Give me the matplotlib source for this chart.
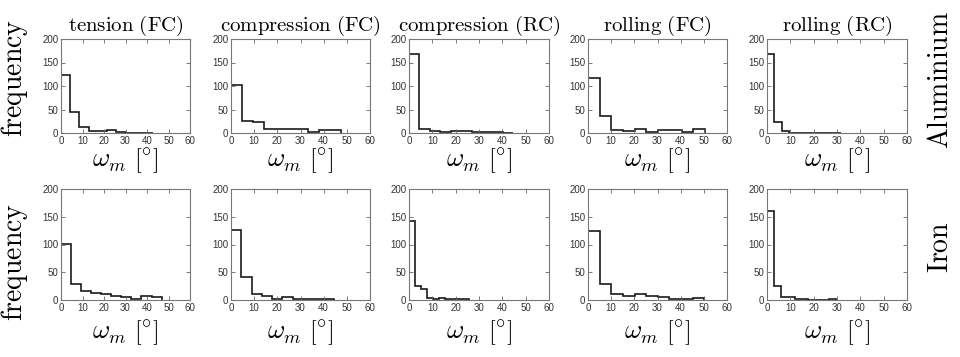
import numpy as np
import matplotlib
matplotlib.use("Agg")
import matplotlib.pyplot as plt

plt.rcParams["mathtext.fontset"] = "cm"

TITLES = ["tension (FC)", "compression (FC)", "compression (RC)",
          "rolling (FC)", "rolling (RC)"]
ROWS = ["Aluminium", "Iron"]

# largest omega_m in each sample (right edge of the 10 bins), deg
al_max = [42.8, 47.3, 44.7, 50.5, 31.5]
fe_max = [46.8, 44.3, 25.6, 50.2, 29.5]

# counts per bin, 10 bins each
al_tension_fc = [123, 44, 13, 5, 4, 6, 2, 1, 1, 1]
al_compr_fc = [102, 25, 23, 9, 9, 9, 8, 2, 7, 6]
al_compr_rc = [168, 9, 5, 2, 4, 5, 2, 2, 2, 1]
al_roll_fc = [118, 37, 6, 5, 8, 3, 7, 6, 2, 8]
al_roll_rc = [168, 24, 5, 1, 0, 0, 0, 0, 1, 1]

fe_tension_fc = [101, 28, 17, 13, 11, 8, 6, 2, 8, 6]
fe_compr_fc = [127, 42, 11, 7, 1, 6, 2, 1, 1, 1]
fe_compr_rc = [143, 25, 19, 3, 1, 4, 2, 1, 1, 1]
fe_roll_fc = [125, 28, 11, 7, 10, 8, 5, 2, 1, 3]
fe_roll_rc = [160, 25, 6, 5, 2, 1, 0, 0, 0, 1]

counts = [[al_tension_fc, al_compr_fc, al_compr_rc, al_roll_fc, al_roll_rc],
          [fe_tension_fc, fe_compr_fc, fe_compr_rc, fe_roll_fc, fe_roll_rc]]
maxes = [al_max, fe_max]

W, H = 960, 357
cols_px = [(61, 190), (231, 370), (409, 549), (588, 727), (767, 907)]
rows_px = [(39, 133), (189, 300)]

fig = plt.figure(figsize=(W / 100, H / 100), dpi=100)

for r, (top, bot) in enumerate(rows_px):
    for c, (left, right) in enumerate(cols_px):
        ax = fig.add_axes([left / W, 1 - bot / H, (right - left) / W, (bot - top) / H])
        edges = np.linspace(0, maxes[r][c], 11)
        ax.stairs(counts[r][c], edges, color="#1a1a1a", lw=1.2)
        ax.set_xlim(0, 60)
        ax.set_ylim(0, 200)
        ax.set_xticks(range(0, 61, 10))
        ax.set_yticks(range(0, 201, 50))
        ax.tick_params(direction="in", top=True, right=True, length=3,
                       width=0.6, color="#666666", labelsize=7, pad=2,
                       labelcolor="#333333")
        for lbl in ax.get_xticklabels() + ax.get_yticklabels():
            lbl.set_family("Liberation Sans")
        for s in ax.spines.values():
            s.set_color("#777777")
            s.set_linewidth(0.8)
        if r == 0:
            ax.set_title(r"$\mathrm{%s}$" % TITLES[c].replace(" ", r"\ "),
                         fontsize=15, pad=6)
        ax.set_xlabel(r"$\omega_m\ \left[{}^{\circ}_{\;}\right]$", fontsize=19,
                      labelpad=1 if r == 0 else 4)
        if c == 0:
            ax.set_ylabel(r"$\mathrm{frequency}$", fontsize=20)
            ax.yaxis.set_label_coords(-0.24, 0.585 if r == 0 else 0.34)

for name, yc in zip(ROWS, [80, 247]):
    fig.text(940 / W, 1 - yc / H, r"$\mathrm{%s}$" % name, rotation=90,
             fontsize=20, ha="center", va="center")

fig.savefig("out.png", dpi=100)
